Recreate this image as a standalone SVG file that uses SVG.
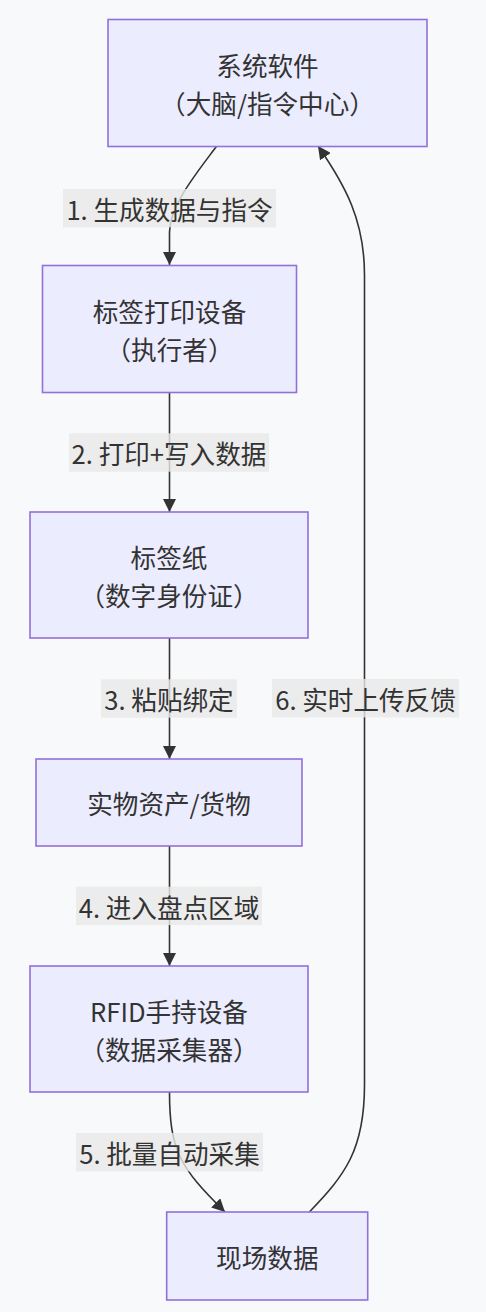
<svg xmlns="http://www.w3.org/2000/svg" width="486" height="1312" viewBox="0 0 486 1312">
<style>
.bg{fill:#f8f9fb}
.node rect{fill:#ECECFF;stroke:#9370DB;stroke-width:1.6}
text{font-family:"Noto Sans CJK SC","Noto Sans",sans-serif;font-size:25.6px;fill:#333;text-anchor:middle;dominant-baseline:central}
.edge{fill:none;stroke:#333;stroke-width:1.6}
.lbg{fill:rgba(232,232,232,0.8)}
</style>
<defs>
<marker id="arr" viewBox="0 0 10 10" refX="10" refY="5" markerWidth="13" markerHeight="13" markerUnits="userSpaceOnUse" orient="auto">
<path d="M0,0 L10,5 L0,10 z" fill="#333"/>
</marker>
</defs>
<rect class="bg" x="0" y="0" width="486" height="1312"/>
<g id="connectors">
<path class="edge" d="M216.7,146 C196,174 170,205 169.5,232 L169.5,265" marker-end="url(#arr)"/>
<path class="edge" d="M169.5,392 L169.5,512" marker-end="url(#arr)"/>
<path class="edge" d="M169.5,638 L169.5,759" marker-end="url(#arr)"/>
<path class="edge" d="M169.5,846 L169.5,966" marker-end="url(#arr)"/>
<path class="edge" d="M169.5,1092 C169.5,1150 180,1168 225,1212" marker-end="url(#arr)"/>
<path class="edge" d="M309.3,1212 C345,1175 364.5,1150 364.5,1085 L364.5,275 C364.5,220 345,185 318,146" marker-end="url(#arr)"/>
<g id="edge-labels">
<rect class="lbg" x="63" y="189" width="213" height="38.4"/>
<text x="169.5" y="208">1. 生成数据与指令</text>
<rect class="lbg" x="69" y="433.3" width="200" height="38.4"/>
<text x="169" y="452.5">2. 打印+写入数据</text>
<rect class="lbg" x="101" y="679.3" width="136" height="38.4"/>
<text x="169" y="698.5">3. 粘贴绑定</text>
<rect class="lbg" x="76" y="886.7" width="186" height="38.4"/>
<text x="169" y="906">4. 进入盘点区域</text>
<rect class="lbg" x="76" y="1133" width="187" height="38.4"/>
<text x="169.5" y="1152.2">5. 批量自动采集</text>
<rect class="lbg" x="272" y="679" width="187" height="38.4"/>
<text x="365.5" y="698.2">6. 实时上传反馈</text>
</g>
</g>
<g id="n1" class="node">
<rect x="108" y="19.5" width="319" height="127"/>
<text x="267.5" y="64">系统软件</text>
<text x="267.5" y="102">（大脑/指令中心）</text>
</g>
<g id="n2" class="node">
<rect x="42.5" y="265.5" width="254" height="127"/>
<text x="169.5" y="310.5">标签打印设备</text>
<text x="169.5" y="348.5">（执行者）</text>
</g>
<g id="n3" class="node">
<rect x="30" y="512" width="278" height="126"/>
<text x="169" y="556">标签纸</text>
<text x="169" y="594">（数字身份证）</text>
</g>
<g id="n4" class="node">
<rect x="36" y="759" width="266" height="87"/>
<text x="169" y="802.5">实物资产/货物</text>
</g>
<g id="n5" class="node">
<rect x="30" y="966" width="278" height="126"/>
<text x="169" y="1010">RFID手持设备</text>
<text x="169" y="1048">（数据采集器）</text>
</g>
<g id="n6" class="node">
<rect x="166.7" y="1212" width="201" height="88"/>
<text x="267.3" y="1256">现场数据</text>
</g>
</svg>
